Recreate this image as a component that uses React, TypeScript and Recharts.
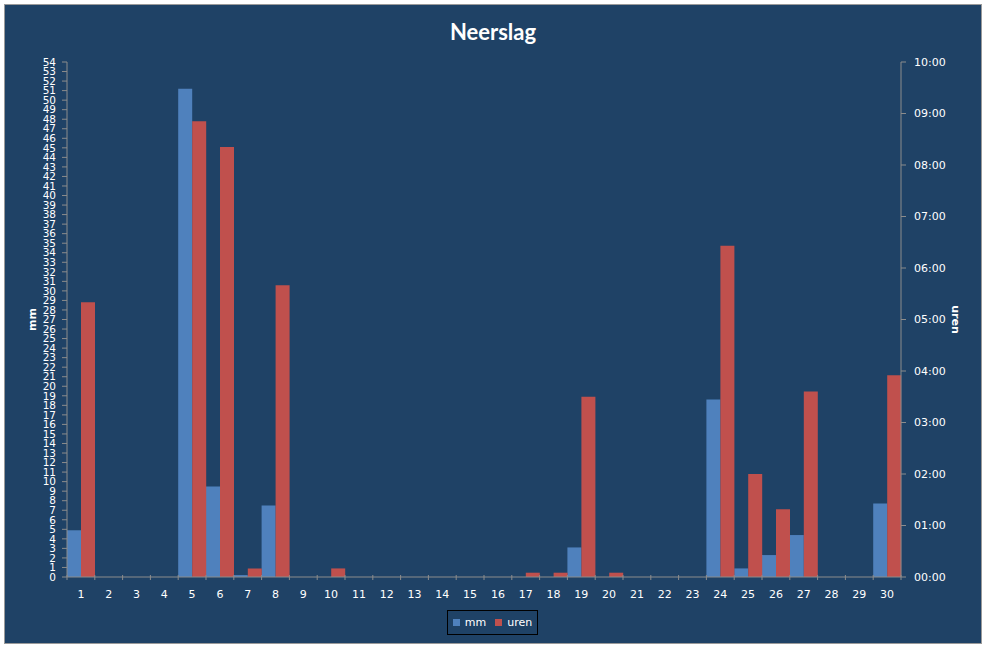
import { ComposedChart, Bar, XAxis, YAxis, Legend } from 'recharts'

// dagen van de maand
const DAYS = [
  '1', '2', '3', '4', '5', '6', '7', '8', '9', '10',
  '11', '12', '13', '14', '15', '16', '17', '18', '19', '20',
  '21', '22', '23', '24', '25', '26', '27', '28', '29', '30',
]

// neerslag in mm
const MM = [
  4.9, 0, 0, 0, 51.2, 9.5, 0.2, 7.5, 0, 0,
  0, 0, 0, 0, 0, 0, 0, 0, 3.1, 0,
  0, 0, 0, 18.6, 0.9, 2.3, 4.4, 0, 0, 7.7,
]

// duur in minuten
const UREN = [
  320, 0, 0, 0, 531, 501, 10, 340, 0, 10,
  0, 0, 0, 0, 0, 0, 5, 5, 210, 5,
  0, 0, 0, 386, 120, 79, 216, 0, 0, 235,
]

const MM_TICKS = Array.from({ length: 55 }, (_, i) => i)
const UREN_TICKS = [0, 60, 120, 180, 240, 300, 360, 420, 480, 540, 600]

const BG = '#1F4266'
const AXIS = '#8C8C8C'
const BLUE = '#4F81BD'
const RED = '#C0504D'
const FONT = '"DejaVu Sans", Verdana, sans-serif'

const data = DAYS.map((d, i) => ({ day: d, mm: MM[i], uren: UREN[i] }))

const fmtHours = (v: number) => `${String(Math.floor(v / 60)).padStart(2, '0')}:00`

function DayTick(props: any) {
  const { x, y, payload, width, visibleTicksCount, index } = props
  const half = width / visibleTicksCount / 2
  const isLast = index === visibleTicksCount - 1
  return (
    <g>
      <line x1={x - half} y1={y - 10} x2={x - half} y2={y - 5} stroke={AXIS} />
      {isLast && <line x1={x + half} y1={y - 10} x2={x + half} y2={y - 5} stroke={AXIS} />}
      <text x={x} y={y + 13} textAnchor="middle" fill="#fff" fontSize={11} fontFamily={FONT}>
        {payload.value}
      </text>
    </g>
  )
}

function LegendBox() {
  return (
    <div
      style={{
        width: 89, height: 23, border: '1px solid #000', display: 'flex',
        alignItems: 'center', justifyContent: 'center', gap: 9,
        fontFamily: FONT, fontSize: 11, color: '#fff',
      }}
    >
      <span style={{ display: 'flex', alignItems: 'center', gap: 5 }}>
        <span style={{ width: 7, height: 7, background: BLUE }} />mm
      </span>
      <span style={{ display: 'flex', alignItems: 'center', gap: 5 }}>
        <span style={{ width: 7, height: 7, background: RED }} />uren
      </span>
    </div>
  )
}

export default function App() {
  return (
    <div
      style={{
        position: 'absolute', left: 5, top: 5, width: 976, height: 638,
        background: BG, outline: '1px solid #9a9a9a',
      }}
    >
      <div
        style={{
          position: 'absolute', top: 13, width: '100%', textAlign: 'center',
          color: '#fff', fontFamily: 'Lato, sans-serif', fontWeight: 700, fontSize: 22,
        }}
      >
        Neerslag
      </div>
      <ComposedChart
        width={976}
        height={638}
        data={data}
        margin={{ top: 57, right: 0, bottom: 36, left: 0 }}
        barCategoryGap={0}
        barGap={0}
      >
        <XAxis
          dataKey="day"
          xAxisId="d"
          interval={0}
          height={30}
          stroke={AXIS}
          tickLine={false}
          tick={<DayTick />}
        />
        <YAxis
          yAxisId="mm"
          orientation="left"
          width={62}
          domain={[0, 54]}
          ticks={MM_TICKS}
          interval={0}
          stroke={AXIS}
          tickSize={5}
          tickMargin={6}
          tick={{ fill: '#fff', fontSize: 10.5, fontFamily: FONT }}
          label={{ value: 'mm', angle: -90, position: 'center', dx: -4, fill: '#fff', fontSize: 11, fontWeight: 700, fontFamily: FONT }}
        />
        <YAxis
          yAxisId="uren"
          orientation="right"
          width={80}
          domain={[0, 600]}
          ticks={UREN_TICKS}
          interval={0}
          stroke={AXIS}
          tickSize={5}
          tickMargin={8}
          tickFormatter={fmtHours}
          tick={{ fill: '#fff', fontSize: 11, fontFamily: FONT }}
          label={{ value: 'uren', angle: 90, position: 'center', dx: 15, fill: '#fff', fontSize: 11, fontWeight: 700, fontFamily: FONT }}
        />
        <Legend
          verticalAlign="middle"
          align="center"
          layout="horizontal"
          content={<LegendBox />}
          wrapperStyle={{ top: 605, left: 442, width: 91, height: 25 }}
        />
        <Bar dataKey="mm" name="mm" xAxisId="d" yAxisId="mm" fill={BLUE} isAnimationActive={false} />
        <Bar dataKey="uren" name="uren" xAxisId="d" yAxisId="uren" fill={RED} isAnimationActive={false} />
      </ComposedChart>
    </div>
  )
}
